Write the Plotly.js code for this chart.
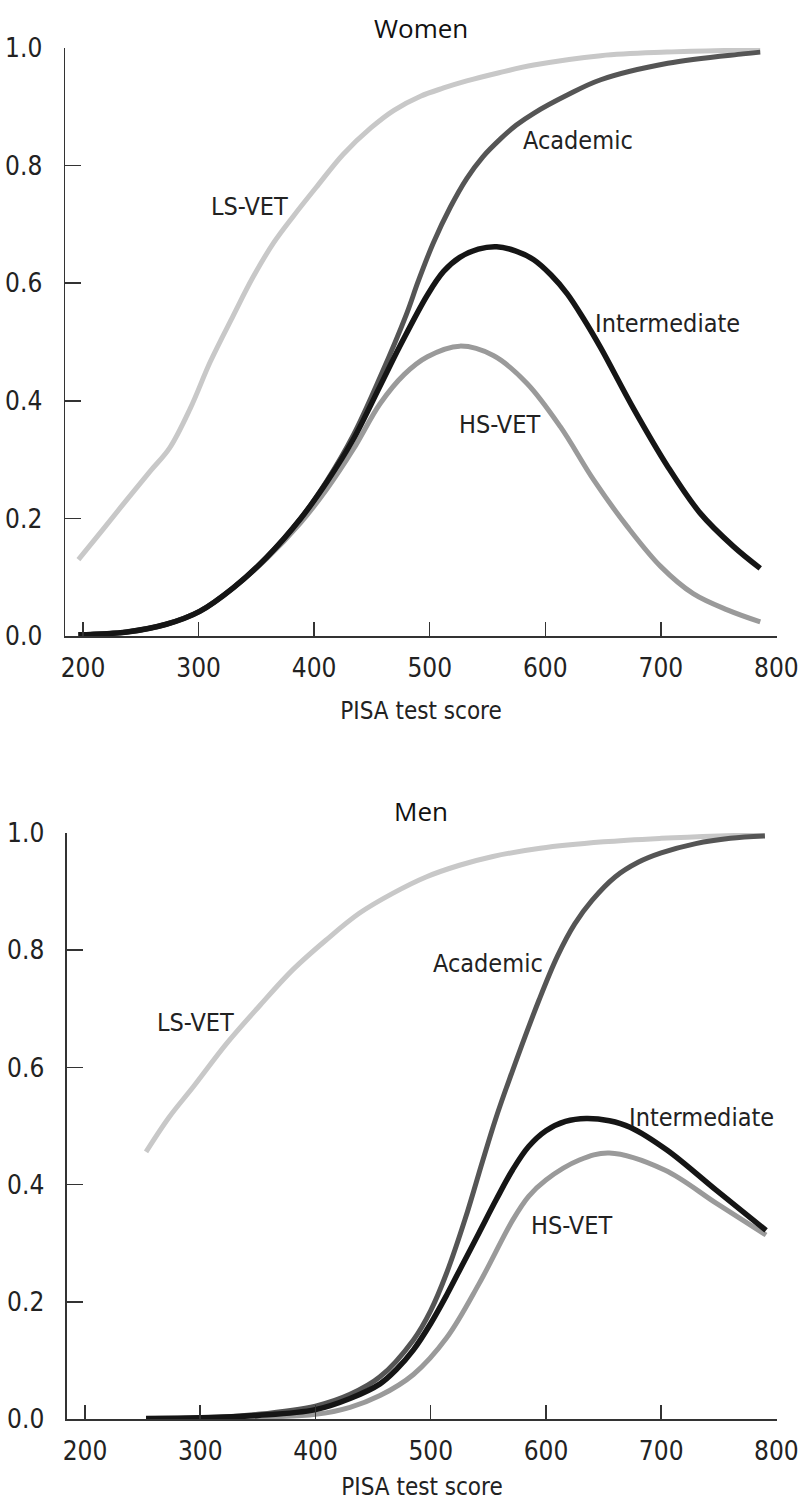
<!DOCTYPE html>
<html>
<head>
<meta charset="utf-8">
<script src="https://cdn.plot.ly/plotly-3.0.1.min.js"></script>
<style>
html,body{margin:0;padding:0;background:#fff;}
#chart{width:804px;height:1501px;}
</style>
</head>
<body>
<div id="chart"></div>
<script>
// ---- Women ----
var womenLsVetX = [196, 218, 238, 258, 275, 293, 310, 330, 347, 365, 382, 403, 425, 449, 469, 492, 512, 532, 560, 590, 648, 705, 786];
var womenLsVetY = [0.130, 0.183, 0.232, 0.280, 0.320, 0.388, 0.466, 0.545, 0.610, 0.669, 0.714, 0.766, 0.819, 0.864, 0.894, 0.918, 0.932, 0.944, 0.958, 0.971, 0.987, 0.993, 0.997];

var womenAcadX = [196, 238, 272, 301, 330, 359, 388, 411, 434, 457, 480, 490, 503, 518, 532, 546, 561, 575, 590, 619, 648, 706, 771, 786];
var womenAcadY = [0.002, 0.007, 0.020, 0.042, 0.082, 0.134, 0.199, 0.264, 0.342, 0.440, 0.548, 0.603, 0.668, 0.730, 0.778, 0.815, 0.845, 0.869, 0.889, 0.920, 0.946, 0.974, 0.990, 0.993];

var womenInterX = [196, 238, 272, 301, 330, 359, 388, 411, 434, 457, 475, 498, 512, 526, 542, 558, 574, 590, 605, 619, 633, 648, 676, 706, 734, 763, 786];
var womenInterY = [0.002, 0.007, 0.020, 0.042, 0.082, 0.134, 0.199, 0.262, 0.335, 0.425, 0.496, 0.580, 0.620, 0.644, 0.658, 0.662, 0.655, 0.640, 0.614, 0.582, 0.540, 0.490, 0.388, 0.288, 0.209, 0.152, 0.115];

var womenHsVetX = [196, 238, 272, 301, 330, 359, 388, 411, 434, 457, 478, 498, 526, 555, 584, 613, 642, 671, 700, 728, 758, 786];
var womenHsVetY = [0.002, 0.007, 0.020, 0.042, 0.082, 0.132, 0.192, 0.250, 0.318, 0.395, 0.445, 0.475, 0.493, 0.477, 0.430, 0.356, 0.265, 0.186, 0.118, 0.072, 0.044, 0.024];

// ---- Men ----
var menLsVetX = [253, 273, 294, 323, 351, 380, 409, 438, 467, 496, 525, 554, 595, 650, 700, 750, 790];
var menLsVetY = [0.456, 0.515, 0.567, 0.641, 0.704, 0.766, 0.817, 0.863, 0.897, 0.925, 0.945, 0.960, 0.974, 0.985, 0.991, 0.995, 0.997];

var menAcadX = [253, 300, 350, 400, 430, 456, 485, 500, 514, 530, 545, 556, 568, 594, 610, 625, 640, 660, 680, 700, 730, 760, 790];
var menAcadY = [0.001, 0.002, 0.008, 0.022, 0.042, 0.072, 0.135, 0.185, 0.250, 0.342, 0.440, 0.510, 0.578, 0.715, 0.790, 0.845, 0.885, 0.925, 0.950, 0.966, 0.982, 0.991, 0.995];

var menInterX = [253, 300, 350, 400, 430, 456, 470, 485, 500, 514, 528, 542, 557, 571, 585, 600, 617, 635, 655, 673, 705, 748, 791];
var menInterY = [0.001, 0.002, 0.006, 0.016, 0.035, 0.060, 0.084, 0.118, 0.163, 0.212, 0.265, 0.318, 0.375, 0.425, 0.465, 0.492, 0.508, 0.513, 0.509, 0.498, 0.459, 0.390, 0.322];

var menHsVetX = [253, 300, 350, 400, 430, 456, 485, 514, 542, 571, 585, 600, 629, 655, 703, 748, 791];
var menHsVetY = [0.001, 0.001, 0.003, 0.008, 0.020, 0.040, 0.076, 0.139, 0.231, 0.339, 0.380, 0.408, 0.442, 0.454, 0.425, 0.368, 0.314];

var xTicks = [200, 300, 400, 500, 600, 700, 800];
var yTicks = [0, 0.2, 0.4, 0.6, 0.8, 1.0];
var yTickText = ["0.0", "0.2", "0.4", "0.6", "0.8", "1.0"];

var colors = {"LS-VET": "#c8c8c8", "Academic": "#555555", "Intermediate": "#151515", "HS-VET": "#9a9a9a"};
var widths = {"LS-VET": 5, "Academic": 5, "Intermediate": 5.5, "HS-VET": 5};

var NARROW = "'Liberation Sans Narrow', 'DejaVu Sans Condensed', 'Arial Narrow', 'Liberation Sans', sans-serif";
var TITLEF = "'Open Sans', 'Noto Sans', sans-serif";

function tr(name, x, y, xa, ya) {
  return {x: x, y: y, xaxis: xa, yaxis: ya, mode: "lines", name: name, showlegend: false, hoverinfo: "skip",
    line: {color: colors[name], width: widths[name], shape: "spline", smoothing: 1}};
}

var data = [
  tr("LS-VET", womenLsVetX, womenLsVetY, "x", "y"),
  tr("HS-VET", womenHsVetX, womenHsVetY, "x", "y"),
  tr("Academic", womenAcadX, womenAcadY, "x", "y"),
  tr("Intermediate", womenInterX, womenInterY, "x", "y"),
  tr("LS-VET", menLsVetX, menLsVetY, "x2", "y2"),
  tr("HS-VET", menHsVetX, menHsVetY, "x2", "y2"),
  tr("Academic", menAcadX, menAcadY, "x2", "y2"),
  tr("Intermediate", menInterX, menInterY, "x2", "y2")
];

function xax(domain, anchor, standoff) {
  return {domain: domain, anchor: anchor, range: [184.4, 800.5], tickvals: xTicks, ticktext: xTicks.map(String),
    ticks: "inside", ticklen: 14, tickwidth: 1.5, tickcolor: "#333", showline: true, linecolor: "#333", linewidth: 1.5,
    showgrid: false, zeroline: false, tickfont: {family: NARROW, size: 26, color: "#222"}, ticklabelstandoff: 8,
    title: {text: "PISA test score", font: {family: NARROW, size: 24, color: "#222"}, standoff: standoff}, fixedrange: true};
}
function yax(domain, anchor) {
  return {domain: domain, anchor: anchor, range: [0, 1], tickvals: yTicks, ticktext: yTickText,
    ticks: "inside", ticklen: 16, tickwidth: 1.5, tickcolor: "#333", showline: true, linecolor: "#333", linewidth: 1.5,
    showgrid: false, zeroline: false, tickfont: {family: NARROW, size: 26, color: "#222"}, ticklabelstandoff: 16, fixedrange: true};
}

function lab(text, x, y, xr, yr) {
  return {text: text, x: x, y: y, xref: xr, yref: yr, showarrow: false, xanchor: "center", yanchor: "middle",
    font: {family: NARROW, size: 25, color: "#222"}};
}

var layout = {
  width: 804, height: 1501,
  margin: {l: 65, r: 27, t: 48, b: 82},
  paper_bgcolor: "#fff", plot_bgcolor: "#fff",
  xaxis: xax([0, 1], "y", 20),
  yaxis: yax([0.5711, 1], "x"),
  xaxis2: xax([0.0028, 1], "y2", 15),
  yaxis2: yax([0, 0.4274], "x2"),
  annotations: [
    {text: "Women", xref: "paper", yref: "paper", x: 0.5, y: 1.0, yshift: 20, showarrow: false, xanchor: "center", yanchor: "middle",
      font: {family: TITLEF, size: 26, color: "#111"}},
    {text: "Men", xref: "paper", yref: "paper", x: 0.5, y: 0.4274, yshift: 22, showarrow: false, xanchor: "center", yanchor: "middle",
      font: {family: TITLEF, size: 26, color: "#111"}},
    lab("LS-VET", 344, 0.73, "x", "y"),
    lab("Academic", 628, 0.842, "x", "y"),
    lab("Intermediate", 706, 0.532, "x", "y"),
    lab("HS-VET", 560, 0.359, "x", "y"),
    lab("LS-VET", 296, 0.677, "x2", "y2"),
    lab("Academic", 550, 0.778, "x2", "y2"),
    lab("Intermediate", 735, 0.514, "x2", "y2"),
    lab("HS-VET", 622, 0.331, "x2", "y2")
  ]
};

Plotly.newPlot("chart", data, layout, {displayModeBar: false, staticPlot: true});
</script>
</body>
</html>
